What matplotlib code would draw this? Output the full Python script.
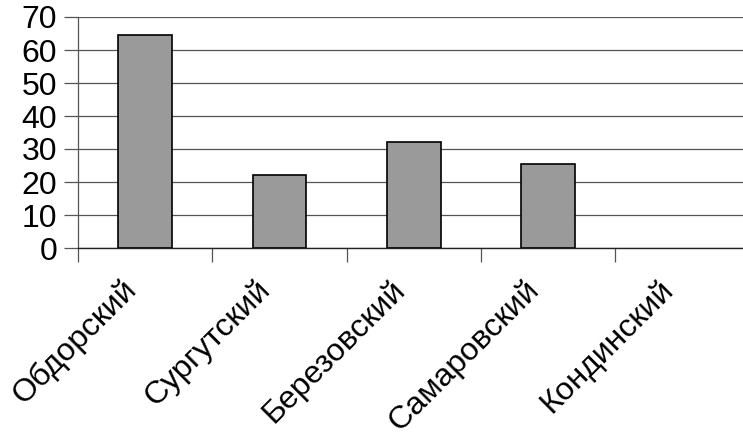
import matplotlib
matplotlib.use("Agg")
import matplotlib.pyplot as plt
from matplotlib.transforms import ScaledTranslation
import numpy as np

categories = ["Обдорский", "Сургутский", "Березовский", "Самаровский", "Кондинский"]
values = [64.5, 22, 32, 25.5, 0]
yticks = [0, 10, 20, 30, 40, 50, 60, 70]

plt.rcParams['font.family'] = ['Liberation Sans', 'DejaVu Sans']

W, H = 743, 436
fig = plt.figure(figsize=(W / 100, H / 100), dpi=100)
left, right, bottom, top = 78, 749.5, 248, 17
ax = fig.add_axes([left / W, (H - bottom) / H, (right - left) / W, (bottom - top) / H])

x = np.arange(len(categories))
bars = ax.bar(x, values, width=0.4, color="#9a9a9a", edgecolor="black", linewidth=1.2, zorder=3)
for b, v in zip(bars, values):
    if v == 0:
        b.set_linewidth(0)

ax.set_xlim(-0.5, len(categories) - 0.5)
ax.set_ylim(0, 70)
ax.set_yticks(yticks)
ax.set_yticklabels([str(v) for v in yticks], fontsize=23)
ax.yaxis.grid(True, color="#555555", linewidth=0.9, zorder=0)
ax.tick_params(axis='y', length=10, width=0.9, color="#555555", pad=5)

ax.set_xticks(x)
ax.set_xticklabels(categories, fontsize=23, rotation=45, ha='right', rotation_mode='anchor')
ax.tick_params(axis='x', which='major', length=0, pad=19)
ax.set_xticks(np.arange(-0.5, len(categories)), minor=True)
ax.tick_params(axis='x', which='minor', length=10, width=0.9, color="#555555")
off = ScaledTranslation(-24 / 100, 0, fig.dpi_scale_trans)
for lab in ax.get_xticklabels():
    lab.set_transform(lab.get_transform() + off)

for s in ['top', 'right']:
    ax.spines[s].set_visible(False)
ax.spines['left'].set_color("#555555")
ax.spines['left'].set_linewidth(0.9)
ax.spines['bottom'].set_color("#222222")
ax.spines['bottom'].set_linewidth(1.0)

fig.savefig("out.png", dpi=100)
